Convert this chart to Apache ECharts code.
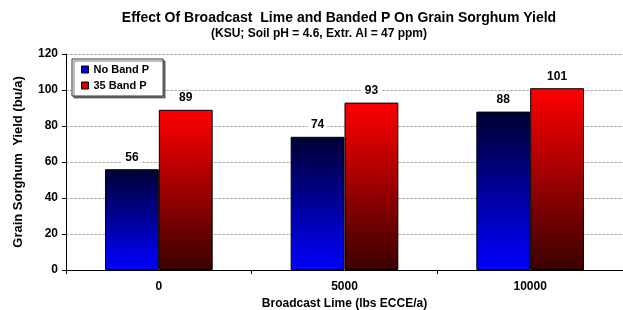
<!DOCTYPE html>
<html>
<head>
<meta charset="utf-8">
<script src="https://cdn.jsdelivr.net/npm/echarts@6/dist/echarts.min.js"></script>
<style>
  html, body { margin: 0; padding: 0; background: #fff; }
  #chart { width: 623px; height: 310px; }
</style>
</head>
<body>
<div id="chart"></div>
<script>
// data
const limeRates = ['0', '5000', '10000'];
const noBandP = [56, 74, 88];
const band35P = [89, 93, 101];
const seriesNames = ['No Band P', '35 Band P'];

const chart = echarts.init(document.getElementById('chart'));
const font = 'Liberation Sans, Arial, sans-serif';
const narrow = '"Liberation Sans Narrow", "Arial Narrow", Liberation Sans, sans-serif';

const blueFill = new echarts.graphic.LinearGradient(0, 0, 0, 1, [
    { offset: 0, color: '#000033' },
    { offset: 1, color: '#0000ff' }
]);
const redFill = new echarts.graphic.LinearGradient(0, 0, 0, 1, [
    { offset: 0, color: '#ff0000' },
    { offset: 1, color: '#3a0000' }
]);

const labelStyle = {
    show: true,
    position: 'top',
    distance: 6,
    fontFamily: font,
    fontWeight: 'bold',
    fontSize: 12,
    color: '#000',
    backgroundColor: '#fff',
    padding: [0, 3]
};

const option = {
    animation: false,
    title: [
        {
            text: 'Effect Of Broadcast  Lime and Banded P On Grain Sorghum Yield',
            left: 339,
            textAlign: 'center',
            top: 11,
            padding: 0,
            textStyle: { fontFamily: font, fontWeight: 'bold', fontSize: 14, color: '#000' }
        },
        {
            text: '(KSU; Soil pH = 4.6, Extr. Al = 47 ppm)',
            left: 319,
            textAlign: 'center',
            top: 28,
            padding: 0,
            textStyle: { fontFamily: narrow, fontWeight: 'bold', fontSize: 12, color: '#000' }
        }
    ],
    legend: {
        left: 72,
        top: 59,
        orient: 'vertical',
        itemWidth: 7,
        itemHeight: 7,
        itemGap: 5,
        padding: [5, 14, 5, 9],
        borderColor: '#333',
        borderWidth: 1,
        backgroundColor: '#fff',
        shadowColor: 'rgba(0,0,0,0.5)',
        shadowOffsetX: 2,
        shadowOffsetY: 2,
        shadowBlur: 0,
        icon: 'rect',
        textStyle: { fontFamily: font, fontWeight: 'bold', fontSize: 11, color: '#000' },
        data: [
            { name: seriesNames[0], itemStyle: { color: '#0000cc', borderColor: '#000', borderWidth: 1 } },
            { name: seriesNames[1], itemStyle: { color: '#cc0000', borderColor: '#000', borderWidth: 1 } }
        ]
    },
    grid: { left: 66, right: 0, top: 54, bottom: 40, containLabel: false, outerBoundsMode: 'none' },
    xAxis: {
        type: 'category',
        data: limeRates,
        name: 'Broadcast Lime (lbs ECCE/a)',
        nameLocation: 'middle',
        nameGap: 28,
        nameTextStyle: { fontFamily: font, fontWeight: 'bold', fontSize: 12, color: '#000' },
        axisLine: { lineStyle: { color: '#000', width: 1 } },
        axisTick: { show: true, inside: false, length: 4, alignWithLabel: false, lineStyle: { color: '#000' } },
        axisLabel: { fontFamily: font, fontWeight: 'bold', fontSize: 12, color: '#000', margin: 11 }
    },
    yAxis: {
        type: 'value',
        min: 0,
        max: 120,
        interval: 20,
        name: 'Grain Sorghum  Yield (bu/a)',
        nameLocation: 'middle',
        nameGap: 41,
        nameTextStyle: { fontFamily: font, fontWeight: 'bold', fontSize: 13, color: '#000' },
        axisLine: { show: true, lineStyle: { color: '#000', width: 1 } },
        axisTick: { show: true, length: 4, lineStyle: { color: '#000' } },
        axisLabel: { fontFamily: font, fontWeight: 'bold', fontSize: 12, color: '#000', margin: 8 },
        splitLine: { show: true, lineStyle: { color: '#b0b0b0', type: [3, 1], width: 1 } }
    },
    series: [
        {
            name: seriesNames[0],
            type: 'bar',
            data: noBandP,
            barGap: '0%',
            barCategoryGap: '42%',
            itemStyle: { color: blueFill, borderColor: '#000', borderWidth: 1 },
            label: labelStyle
        },
        {
            name: seriesNames[1],
            type: 'bar',
            data: band35P,
            itemStyle: { color: redFill, borderColor: '#000', borderWidth: 1 },
            label: labelStyle
        }
    ]
};

chart.setOption(option);
</script>
</body>
</html>
